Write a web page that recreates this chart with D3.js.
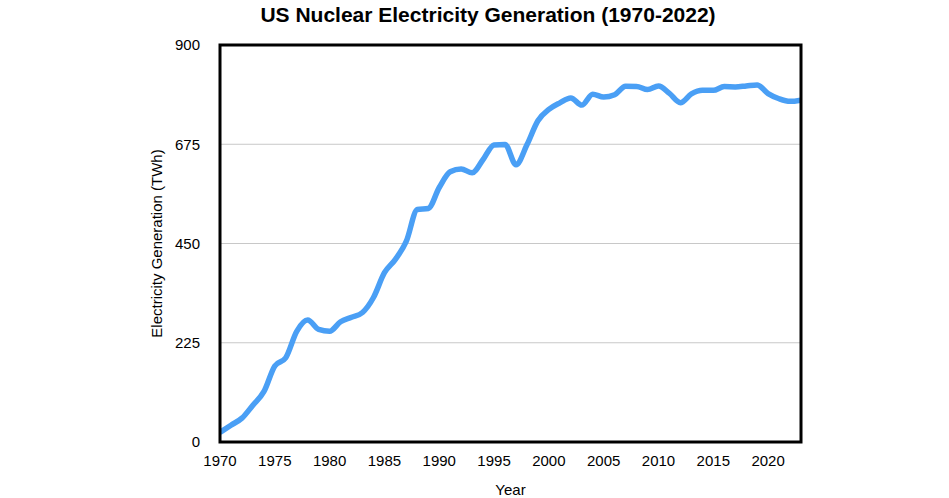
<!DOCTYPE html>
<html>
<head>
<meta charset="utf-8">
<script src="https://cdn.jsdelivr.net/npm/d3@7"></script>
<style>
  body { margin: 0; background: #fff; }
  text { font-family: "Liberation Sans", Arial, Helvetica, sans-serif; }
</style>
</head>
<body>
<svg id="chart" width="949" height="498"></svg>
<script>
// US nuclear net generation, TWh
var years = d3.range(1970, 2024);
var generation = [
  21.8, 38.1, 54.1, 83.5, 114.0, 172.5, 191.1, 250.9, 276.4, 255.2,
  251.1, 272.7, 282.8, 293.7, 327.6, 383.7, 414.0, 455.3, 527.0, 529.4,
  576.9, 612.6, 618.8, 610.3, 640.4, 673.4, 674.7, 628.6, 673.7, 728.3,
  753.9, 768.8, 780.1, 763.7, 788.5, 782.0, 787.2, 806.4, 806.2, 798.9,
  807.0, 790.2, 769.3, 789.0, 797.2, 797.2, 805.7, 805.0, 807.1, 809.4,
  789.9, 778.2, 772.2, 775.0
];
var yTicks = [0, 225, 450, 675, 900];
var xTicks = [1970, 1975, 1980, 1985, 1990, 1995, 2000, 2005, 2010, 2015, 2020];

var plotLeft = 220, plotRight = 801, plotTop = 45, plotBottom = 442;

var svg = d3.select('#chart');

var x = d3.scaleLinear().domain([1970, 2023]).range([plotLeft, plotRight]);
var y = d3.scaleLinear().domain([0, 900]).range([plotBottom, plotTop]);

// gridlines
svg.selectAll('line.grid')
   .data(yTicks.filter(function(d){ return d > 0 && d < 900 }))
   .enter()
   .append('line')
     .attr('class', 'grid')
     .attr('x1', plotLeft).attr('x2', plotRight)
     .attr('y1', function(d){ return y(d) }).attr('y2', function(d){ return y(d) })
     .style('stroke', '#c8c8c8')
     .style('stroke-width', 1);

// y tick labels
svg.selectAll('text.ytick')
   .data(yTicks)
   .enter()
   .append('text')
     .attr('class', 'ytick')
     .attr('x', plotLeft - 20)
     .attr('y', function(d){ return y(d) })
     .attr('dy', '0.35em')
     .attr('text-anchor', 'end')
     .style('font-size', '15px')
     .text(function(d){ return d });

// x tick labels
svg.selectAll('text.xtick')
   .data(xTicks)
   .enter()
   .append('text')
     .attr('class', 'xtick')
     .attr('x', function(d){ return x(d) })
     .attr('y', plotBottom + 19)
     .attr('dy', '0.35em')
     .attr('text-anchor', 'middle')
     .style('font-size', '15px')
     .text(function(d){ return d });

// data line
var line = d3.line()
             .x(function(d, i){ return x(years[i]) })
             .y(function(d){ return y(d) })
             .curve(d3.curveMonotoneX);

svg.append('clipPath').attr('id', 'clip')
   .append('rect').attr('x', plotLeft).attr('y', plotTop - 10)
   .attr('width', plotRight - plotLeft).attr('height', plotBottom - plotTop + 10);

svg.append('path')
   .datum(generation)
   .attr('d', line)
   .attr('clip-path', 'url(#clip)')
   .style('fill', 'none')
   .style('stroke', '#4a9ff5')
   .style('stroke-width', 5.5)
   .style('stroke-linejoin', 'round');

// frame
svg.append('rect')
   .attr('x', plotLeft).attr('y', plotTop)
   .attr('width', plotRight - plotLeft).attr('height', plotBottom - plotTop)
   .style('fill', 'none')
   .style('stroke', '#000')
   .style('stroke-width', 3);

// titles
svg.append('text')
   .attr('x', 488).attr('y', 22)
   .attr('text-anchor', 'middle')
   .style('font-size', '21px')
   .style('font-weight', 'bold')
   .text('US Nuclear Electricity Generation (1970-2022)');

svg.append('text')
   .attr('x', (plotLeft + plotRight) / 2).attr('y', 495)
   .attr('text-anchor', 'middle')
   .style('font-size', '15px')
   .text('Year');

svg.append('text')
   .attr('transform', 'translate(162,' + ((plotTop + plotBottom) / 2) + ') rotate(-90)')
   .attr('text-anchor', 'middle')
   .style('font-size', '15px')
   .text('Electricity Generation (TWh)');
</script>
</body>
</html>
